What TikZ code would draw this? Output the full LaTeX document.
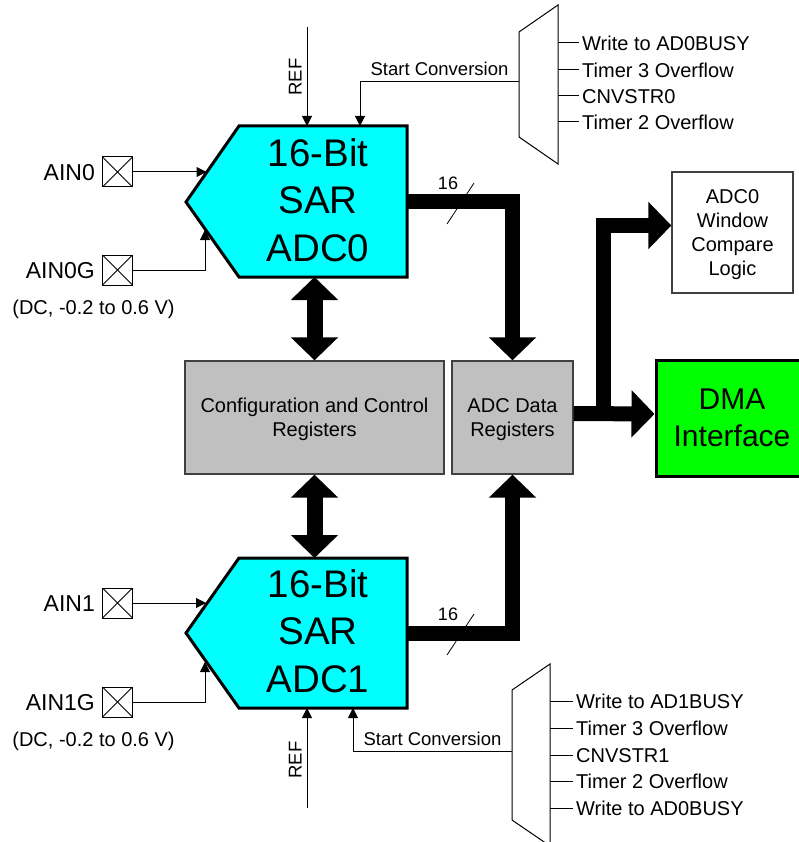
\documentclass[tikz,border=0pt]{standalone}
\usepackage{fontspec}
\setmainfont{Liberation Sans}
\usepackage{tikz}
\usetikzlibrary{arrows.meta}
\usetikzlibrary{positioning}
\definecolor{adccyan}{RGB}{0,255,255}
\definecolor{reggray}{RGB}{192,192,192}
\definecolor{dmagreen}{RGB}{0,255,0}
\definecolor{edgegray}{RGB}{64,64,64}
\tikzset{adc/.style={draw, line width=3pt, fill=adccyan, line join=miter}}
\tikzset{adclabel/.style={align=center, inner sep=0pt,
   font=\fontsize{38.5}{47.5}\selectfont, text depth=0pt}}
\tikzset{reg/.style={rectangle, draw=edgegray, line width=1.3pt, fill=reggray,
   align=center, inner sep=0pt, minimum height=113pt,
   font=\fontsize{20}{24}\selectfont, text depth=0pt}}
\tikzset{winbox/.style={rectangle, draw=edgegray, line width=1.3pt, fill=white,
   align=center, inner sep=0pt, minimum width=121pt, minimum height=121pt,
   font=\fontsize{20}{24.3}\selectfont, text depth=0pt}}
\tikzset{dmabox/.style={rectangle, draw, line width=3pt, fill=dmagreen,
   align=center, inner sep=0pt, minimum width=152pt, minimum height=116pt,
   font=\fontsize{30}{37}\selectfont, text depth=0pt}}
\tikzset{pinbox/.style={rectangle, draw, line width=1pt, minimum size=30pt, inner sep=0pt,
   path picture={\draw[line width=0.8pt]
      (path picture bounding box.north west) -- (path picture bounding box.south east)
      (path picture bounding box.south west) -- (path picture bounding box.north east);}}}
\tikzset{pinlabel/.style={inner sep=0pt, font=\fontsize{23}{27}\selectfont, text height=16.5pt, text depth=0pt}}
\tikzset{txt/.style={inner sep=0pt, font=\fontsize{20}{24}\selectfont, text height=14.3pt, text depth=0pt}}
\tikzset{smalltxt/.style={inner sep=0pt, font=\fontsize{18.5}{22}\selectfont, text height=13.2pt, text depth=0pt}}
\tikzset{numtxt/.style={inner sep=0pt, font=\fontsize{18}{22}\selectfont, text height=12.9pt, text depth=0pt}}
\tikzset{sig/.style={line width=1pt, -{Triangle[width=10pt,length=10pt]}}}
\tikzset{bus/.style={line width=15pt, line join=miter, -{Triangle[width=46pt,length=23pt]}}}
\tikzset{dbus/.style={line width=16pt, {Triangle[width=46pt,length=23pt]}-{Triangle[width=46pt,length=23pt]}}}
\tikzset{mux/.style={draw, line width=1pt, line join=miter}}

\begin{document}
\begin{tikzpicture}[x=1pt, y=-1pt]

    \useasboundingbox[fill=white] (0,0) rectangle (799,842);

    \coordinate (a0nw) at (239,126);
    \coordinate (a0ne) at (407,126);
    \coordinate (a0se) at (407,277);
    \coordinate (a0sw) at (239,277);
    \coordinate (a0w) at (186,202);
    \coordinate (a1nw) at (239,558);
    \coordinate (a1ne) at (407,558);
    \coordinate (a1se) at (407,708);
    \coordinate (a1sw) at (239,708);
    \coordinate (a1w) at (186,633);

    \draw[adc] (a0nw) -- (a0ne) -- (a0se) -- (a0sw) -- (a0w) -- cycle;
    \node[adclabel] (adc0) at (318,200) {16-Bit\\SAR\\ADC0};
    \draw[adc] (a1nw) -- (a1ne) -- (a1se) -- (a1sw) -- (a1w) -- cycle;
    \node[adclabel] (adc1) at (318,631) {16-Bit\\SAR\\ADC1};

    \node[reg, minimum width=259pt] (cfg) at (314.5,417.5) {Configuration and Control\\Registers};
    \node[reg, minimum width=121pt] (data) at (512.5,417.5) {ADC Data\\Registers};
    \node[winbox] (win) at (732.5,232.5) {ADC0\\Window\\Compare\\Logic};
    \node[dmabox] (dma) at (732,418) {DMA\\Interface};

    \draw[bus] (a0se |- a0w) -| (data.north);
    \draw[bus] (a1se |- a1w) -| (data.south);
    \draw[dbus] (cfg.north |- a0sw) -- (cfg.north);
    \draw[dbus] (cfg.south) -- (cfg.south |- a1nw);
    \draw[bus] ([yshift=4pt]data.east) -- ([yshift=4pt]dma.west);
    \coordinate (br) at (603.5,414);
    \draw[bus] (br) |- ([yshift=7pt]win.west);

    \draw[line width=0.8pt] (474,183) -- (447,224);
    \node[numtxt] (n0) at (448,183) {16};
    \draw[line width=0.8pt] (474,614) -- (447,655);
    \node[numtxt] (n1) at (448,614) {16};

    \node[pinbox] (ain0) at (117.5,172) {};
    \node[pinlabel, left=7pt of ain0] (ain0lbl) {AIN0};
    \node[pinbox] (ain0g) at (117.5,270) {};
    \node[pinlabel, left=7pt of ain0g] (ain0glbl) {AIN0G};
    \node[txt] (dc0) at (93.5,307) {(DC, -0.2 to 0.6 V)};
    \coordinate (a0in) at (206.5,172);
    \coordinate (a0ing) at (205,230);
    \draw[sig] (ain0.east) -- (a0in);
    \draw[sig] (ain0g.east) -| (a0ing);

    \node[pinbox] (ain1) at (117.5,603) {};
    \node[pinlabel, left=7pt of ain1] (ain1lbl) {AIN1};
    \node[pinbox] (ain1g) at (117.5,702) {};
    \node[pinlabel, left=7pt of ain1g] (ain1glbl) {AIN1G};
    \node[txt] (dc1) at (93.5,739) {(DC, -0.2 to 0.6 V)};
    \coordinate (a1in) at (206,603);
    \coordinate (a1ing) at (205,662);
    \draw[sig] (ain1.east) -- (a1in);
    \draw[sig] (ain1g.east) -| (a1ing);

    \draw[mux] (519,32) -- (558,5) -- (558,164) -- (519,137) -- cycle;
    \coordinate (mux0) at (519,82);
    \coordinate (ref0) at (307,27);
    \coordinate (sc0) at (360,126);
    \draw[sig] (ref0) -- (ref0 |- a0nw);
    \node[smalltxt, rotate=90] (ref0lbl) at (295,77) {REF};
    \draw[sig] (mux0) -| node[smalltxt, pos=0.25, above=6pt] (sc0lbl) {Start Conversion} (sc0);
    \foreach \y/\t [count=\i] in {43/Write to AD0BUSY, 70/Timer 3 Overflow, 96/CNVSTR0, 122/Timer 2 Overflow} {
        \node[txt, anchor=west, inner xsep=3pt] (m0in\i) at (579,\y) {\t};
        \draw[line width=1pt] (558,\y) -- (m0in\i.west);
    }

    \draw[mux] (512,690) -- (550,664) -- (550,846) -- (512,820) -- cycle;
    \coordinate (mux1) at (512,751);
    \coordinate (ref1) at (307,808);
    \coordinate (sc1) at (353,708);
    \draw[sig] (ref1) -- (ref1 |- a1sw);
    \node[smalltxt, rotate=90] (ref1lbl) at (295,760) {REF};
    \draw[sig] (mux1) -| node[smalltxt, pos=0.25, above=5pt] (sc1lbl) {Start Conversion} (sc1);
    \foreach \y/\t [count=\i] in {701/Write to AD1BUSY, 728/Timer 3 Overflow, 755/CNVSTR1, 781/Timer 2 Overflow, 808/Write to AD0BUSY} {
        \node[txt, anchor=west, inner xsep=3pt] (m1in\i) at (573,\y) {\t};
        \draw[line width=1pt] (550,\y) -- (m1in\i.west);
    }

\end{tikzpicture}
\end{document}
